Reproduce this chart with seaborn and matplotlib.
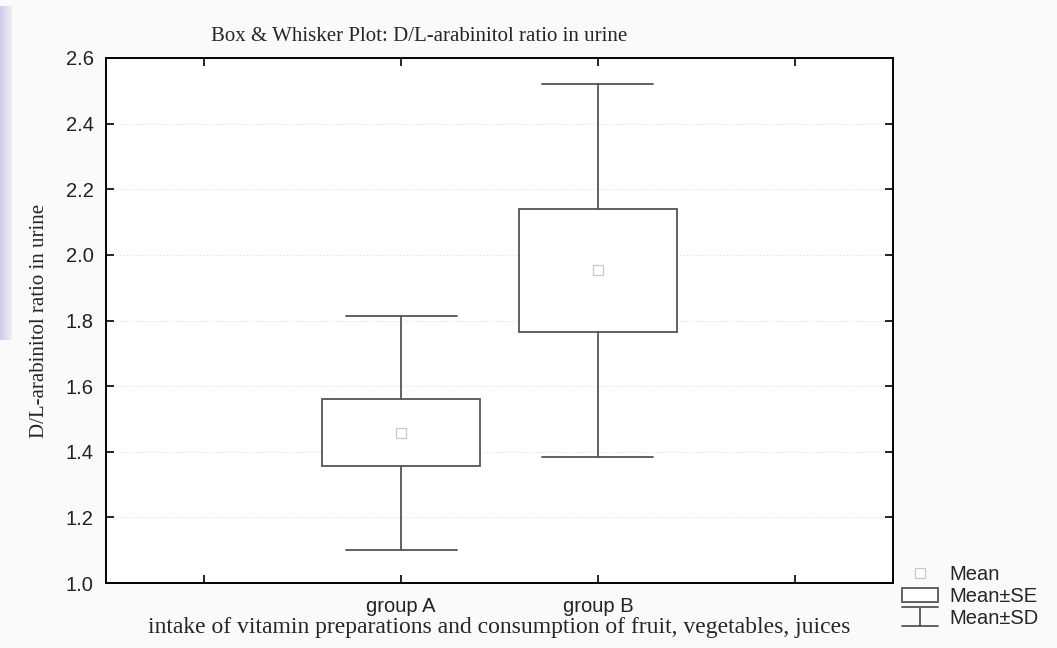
import numpy as np
import seaborn as sns
import matplotlib.pyplot as plt
from matplotlib.lines import Line2D
from matplotlib.patches import Rectangle
from matplotlib.legend_handler import HandlerBase

# values
groups = ["group A", "group B"]
means = [1.458, 1.953]
se = [0.102, 0.188]
sd = [0.357, 0.568]

title = "Box & Whisker Plot: D/L-arabinitol ratio in urine"
ylabel = "D/L-arabinitol ratio in urine"
xlabel = "intake of vitamin preparations and consumption of fruit, vegetables, juices"
yticks = [1.0, 1.2, 1.4, 1.6, 1.8, 2.0, 2.2, 2.4, 2.6]

sns.set_style("white")
plt.rcParams["font.family"] = ["Liberation Sans", "DejaVu Sans"]

LINE = "#555555"
SERIF = ["Liberation Serif", "DejaVu Serif"]


class HandlerSD(HandlerBase):
    def create_artists(self, legend, orig_handle, xdescent, ydescent,
                       width, height, fontsize, trans):
        x0, x1 = -xdescent, -xdescent + width
        y0, y1 = -ydescent - 2, -ydescent + height + 2
        xm = (x0 + x1) / 2
        kw = dict(color=LINE, lw=1.3, transform=trans)
        return [Line2D([x0, x1], [y1, y1], **kw),
                Line2D([xm, xm], [y0, y1], **kw),
                Line2D([x0, x1], [y0, y0], **kw)]


fig = plt.figure(figsize=(10.57, 6.48), dpi=100, facecolor="#fafafa")
ax = fig.add_axes([0.1003, 0.1003, 0.7445, 0.8102])
ax.set_facecolor("white")

# lavender strip on the left edge
strip = fig.add_axes([0.0, 0.475, 0.011, 0.515])
grad = np.linspace(1, 0, 50).reshape(1, -1)
strip.imshow(grad, aspect="auto", cmap=sns.light_palette("#cfcaee", as_cmap=True),
             vmin=0, vmax=1)
strip.set_axis_off()

positions = np.arange(len(groups))
stats = []
for g, m, s_e, s_d in zip(groups, means, se, sd):
    stats.append(dict(label=g, med=m, q1=m - s_e, q3=m + s_e,
                      whislo=m - s_d, whishi=m + s_d, fliers=[]))

ax.bxp(stats, positions=positions, widths=0.8, capwidths=0.565,
       showfliers=False, patch_artist=True,
       boxprops=dict(facecolor="white", edgecolor=LINE, linewidth=1.3),
       whiskerprops=dict(color=LINE, linewidth=1.3),
       capprops=dict(color=LINE, linewidth=1.3),
       medianprops=dict(linewidth=0), zorder=3)

sns.scatterplot(x=positions, y=means, marker="s", s=45, color="white",
                edgecolor="#c8c8c8", linewidth=0.9, ax=ax, zorder=4)

ax.set_xlim(-1.5, 2.5)
ax.set_ylim(1.0, 2.6)
ax.set_xticks([-1, 0, 1, 2])
ax.set_xticklabels([""] + groups + [""])
ax.set_yticks(yticks)
ax.set_yticklabels([f"{v:.1f}" for v in yticks])
ax.tick_params(axis="both", direction="in", length=6, width=1.2, colors="black",
               labelsize=14.5, top=True, right=True, bottom=True, left=True)
ax.tick_params(axis="x", pad=10)
ax.tick_params(axis="y", pad=9)
for t in ax.get_xticklabels() + ax.get_yticklabels():
    t.set_color("#222222")
for sp in ax.spines.values():
    sp.set_color("black")
    sp.set_linewidth(1.4)
ax.yaxis.grid(True, linestyle=(0, (1, 2)), color="#dddddd", linewidth=0.8)
ax.set_axisbelow(True)

ax.set_ylabel(ylabel, family=SERIF, fontsize=15, labelpad=12)
ax.set_xlabel(xlabel, family=SERIF, fontsize=17, labelpad=1)
fig.text(0.2, 0.943, title, family=SERIF, fontsize=15, ha="left", va="center")

handles = [
    Line2D([], [], marker="s", linestyle="none", markersize=6.5,
           markerfacecolor="white", markeredgecolor="#c8c8c8", markeredgewidth=0.9),
    Rectangle((0, 0), 1, 1, facecolor="white", edgecolor=LINE, linewidth=1.3),
    "sd",
]
fig.legend(handles, ["Mean", "Mean\u00b1SE", "Mean\u00b1SD"],
           handler_map={str: HandlerSD()},
           loc="lower left", bbox_to_anchor=(0.846, 0.019),
           frameon=False, fontsize=14.5, handlelength=1.75, handleheight=0.7,
           handletextpad=0.6, labelspacing=0.15, borderaxespad=0)

fig.savefig("out.png", dpi=100, facecolor=fig.get_facecolor())
